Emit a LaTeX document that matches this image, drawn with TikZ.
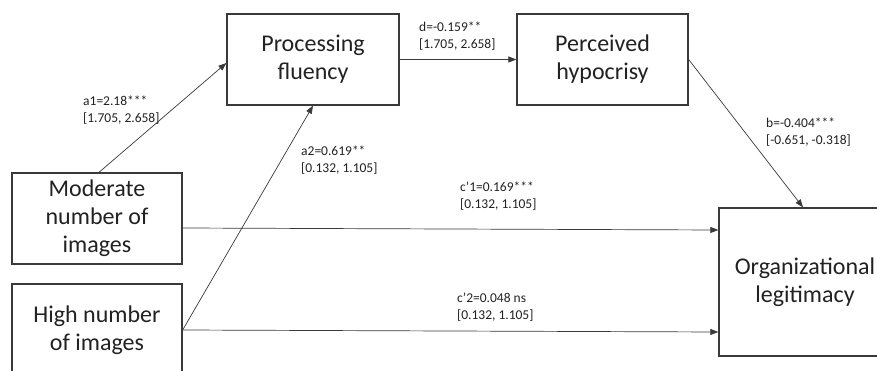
\documentclass[tikz,border=0pt]{standalone}
\usepackage{fontspec}
\setmainfont{Carlito}
\usetikzlibrary{arrows.meta}
\definecolor{linec}{HTML}{3A3A3A}
\definecolor{textc}{HTML}{222222}
\tikzset{
  box/.style={draw=linec, line width=1.3pt, rectangle, align=center, text=textc,
    font=\fontsize{24}{28}\selectfont, inner sep=0pt},
  conn/.style={draw=linec, line width=0.7pt, -{Triangle[length=8pt,width=6pt]}},
  lab/.style={anchor=north west, align=left, inner sep=0pt, text=textc,
    font=\fontsize{13.5}{17}\selectfont},
}
\begin{document}
\begin{tikzpicture}[x=1pt,y=-1pt]
\useasboundingbox (0,0) rectangle (877,371);
\fill[white] (0,0) rectangle (877,371);
\clip (0,0) rectangle (877,371);

\node[box, minimum width=170pt, minimum height=91pt] (mod) at (97,218.5) {Moderate\\number of\\images};
\node[box, minimum width=170pt, minimum height=92pt] (high) at (97,330) {High number\\of images};
\node[box, minimum width=172pt, minimum height=91pt] (pf) at (313,59.5) {Processing\\fluency};
\node[box, minimum width=171pt, minimum height=91pt] (ph) at (602.5,59.5) {Perceived\\hypocrisy};
\node[box, minimum width=172pt, minimum height=148pt] (ol) at (805,282) {Organizational\\legitimacy};

\draw[conn] ([xshift=2pt]mod.north) -- ([yshift=-3.5pt]pf.west);
\draw[conn] (high.east) -- (pf.south);
\draw[conn] (pf.east) -- (ph.west);
\draw[conn] (ph.east) -- ([xshift=-2pt]ol.north);
\draw[conn] ([yshift=-9.5pt]mod.east) -- ([yshift=52pt]ol.west);
\draw[conn] (high.east) -- ([yshift=-50pt]ol.west);

\node[lab] (la1) at (83,96) {a1=2.18***\\{}[1.705, 2.658]};
\node[lab] (la2) at (301,146) {a2=0.619**\\{}[0.132, 1.105]};
\node[lab] (ld) at (419,22) {d=-0.159**\\{}[1.705, 2.658]};
\node[lab] (lb) at (766,118) {b=-0.404***\\{}[-0.651, -0.318]};
\node[lab] (lc1) at (460,182) {c’1=0.169***\\{}[0.132, 1.105]};
\node[lab] (lc2) at (457,293) {c’2=0.048 ns\\{}[0.132, 1.105]};
\end{tikzpicture}
\end{document}
